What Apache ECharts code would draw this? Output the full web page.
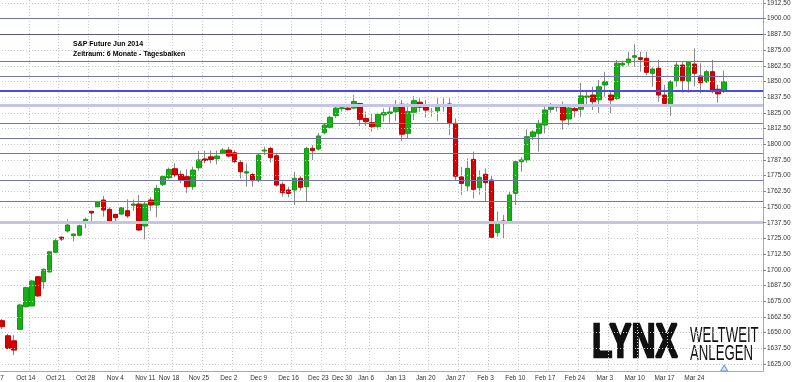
<!DOCTYPE html>
<html><head><meta charset="utf-8">
<script src="https://cdn.jsdelivr.net/npm/echarts@6/dist/echarts.min.js"></script>
<style>html,body{margin:0;padding:0;background:#fff}#c{width:800px;height:382px}</style>
</head><body><div id="c"></div>
<script>
const dates = [
 'Oct 7','Oct 8','Oct 9','Oct 10','Oct 11',
 'Oct 14','Oct 15','Oct 16','Oct 17','Oct 18',
 'Oct 21','Oct 22','Oct 23','Oct 24','Oct 25',
 'Oct 28','Oct 29','Oct 30','Oct 31','Nov 1',
 'Nov 4','Nov 5','Nov 6','Nov 7','Nov 8',
 'Nov 11','Nov 12','Nov 13','Nov 14',
 'Nov 18','Nov 19','Nov 20','Nov 21','Nov 22',
 'Nov 25','Nov 26','Nov 27','Nov 28','Nov 29',
 'Dec 2','Dec 3','Dec 4','Dec 5','Dec 6',
 'Dec 9','Dec 10','Dec 11','Dec 12','Dec 13',
 'Dec 16','Dec 17','Dec 18','Dec 19','Dec 20',
 'Dec 23','Dec 24','Dec 26','Dec 27',
 'Dec 30','Dec 31','Jan 2','Jan 3',
 'Jan 6','Jan 7','Jan 8','Jan 9','Jan 10',
 'Jan 13','Jan 14','Jan 15','Jan 16','Jan 17',
 'Jan 20','Jan 21','Jan 22','Jan 23','Jan 24',
 'Jan 27','Jan 28','Jan 29','Jan 30','Jan 31',
 'Feb 3','Feb 4','Feb 5','Feb 6','Feb 7',
 'Feb 10','Feb 11','Feb 12','Feb 13','Feb 14',
 'Feb 17','Feb 18','Feb 19','Feb 20','Feb 21',
 'Feb 24','Feb 25','Feb 26','Feb 27','Feb 28',
 'Mar 3','Mar 4','Mar 5','Mar 6','Mar 7',
 'Mar 10','Mar 11','Mar 12','Mar 13','Mar 14',
 'Mar 17','Mar 18','Mar 19','Mar 20','Mar 21',
 'Mar 24','Mar 25','Mar 26','Mar 27','Mar 28',
 'Mar 31'
];
const emptySlots = ['', ' ', '  ', '   ', '    ', '     '];
const tickLabels = ['Oct 7','Oct 14','Oct 21','Oct 28','Nov 4','Nov 11','Nov 18','Nov 25','Dec 2','Dec 9','Dec 16','Dec 23','Dec 30','Jan 6','Jan 13','Jan 20','Jan 27','Feb 3','Feb 10','Feb 17','Feb 24','Mar 3','Mar 10','Mar 17','Mar 24'];

const open = [null,
 1659.5,1647.5,1643.5,1652.6,1670.6,1671.2,1694.5,1690.5,1698.3,1714,1726,1730.9,1727.2,1727.5,1737.5,1746.6,1750.3,1755.6,1748.2,1744.2,
 1744.4,1747.1,1751.4,1752.4,1734.9,1755.6,1751.6,1768.1,1773.4,1780.5,1776,1774.2,1766.2,1781.3,1788.3,1790,1788.5,1792.8,1795.4,1793.3,
 1785.6,1777.1,1775.9,1771,1794.6,1796.7,1790.9,1768.1,1763.6,1763.6,1772.9,1766.2,1796.8,1796.2,1809.2,1813.5,1822.8,1828.4,1828.8,1828.8,
 1832.5,1820.6,1817.2,
 1814.0,1823.3,1824.5,1825.9,1831.9,1808.7,1825.5,1833.5,1830.5,1826,1826.6,1830,1832.1,1816.7,1774,1766.8,1788,1765.4,1776.1,1771.5,
 1729.6,1738.9,1738.3,1760.9,1786.1,1787.5,1806,1808.7,1815.3,1827.8,1829.6,
 1829.9,1820.1,1828.4,1827.9,1837.4,1839.2,1835.4,1847.2,1839.2,1836.6,1863.1,1865,1869.3,1868.9,1868.5,1856.5,1860.5,1839.2,1831.3,1850.6,
 1863.1,1850.2,1863.9,1854.4,1849.8,1857.8,1843.8,1842.7];
const close = [null,
 1654.7,1637.5,1636.1,1672,1685.8,1691.1,1679.2,1700.4,1714.4,1723.2,1724.5,1735.7,1728.5,1735.1,1740.2,1745.3,1754,1747.6,1737.8,1741.5,
 1749.5,1742.9,1752.4,1731.7,1752.4,1751.6,1764.9,1774.2,1780,1775.5,1771.5,1766.2,1779.5,1787.5,1787.1,1787.9,1790.6,1795.4,1790.6,1786.2,
 1778.1,1778.1,1771,1791.4,1795.4,1789.3,1767.5,1761.4,1760.9,1772.9,1765.7,1796.7,1794.9,1806.6,1815.3,1821.5,1828.8,1829.1,1827.6,1834.1,
 1819.8,1818,1814,
 1823.9,1825.1,1825.7,1830.5,1808,1826,1834.7,1829.5,1827.2,1826,1831.3,1831.3,1817.2,1774.5,1768.8,1780.8,1764.1,1773.7,1769.4,1725.9,
 1737,1736.8,1759.6,1786.1,1787.5,1806,1809.8,1816.7,1827.3,1830.5,1830.5,
 1819.3,1828.9,1826.8,1838.5,1838.4,1833.9,1845.8,1849.8,1835.2,1864.5,1864.5,1867.9,1870.5,1867.6,1857.3,1859.9,1839.2,1832.5,1849.8,1863.1,
 1850.6,1865.3,1856.5,1849,1857.8,1841.9,1840.1,1849.8];
const high = [null,
 1661,1649,1648,1673,1686.5,1692,1695,1701,1715,1725,1726.5,1740.2,1729,1736,1741.5,1747,1754.5,1758.8,1749.8,1744.6,
 1750,1756.2,1756,1759.6,1754,1757.8,1767.6,1775.2,1781.5,1784.8,1779,1780,1782.1,1794.6,1794.9,1795,1795,1797,1797.9,1795.4,
 1787.5,1784.8,1777.3,1793,1798,1798,1792.8,1770.1,1766.2,1778.1,1774.7,1798,1799.4,1809,1816.8,1822.6,1831.5,1832,1830.8,1839.2,
 1833,1825.9,1825,
 1825.1,1828.6,1831.3,1835.2,1835.2,1832.6,1838.4,1836.6,1835.2,1829,1836.6,1836.6,1836.6,1820.7,1782,1788.8,1794.1,1779.2,1780.8,1775.5,
 1746.3,1743.7,1762.3,1787.5,1789.6,1811.8,1811.3,1819.3,1831.3,1832.8,1832.1,
 1834,1831.3,1831.3,1848.8,1843.2,1845.8,1851.1,1857.8,1841.9,1867.2,1866.5,1873.7,1879.8,1873.7,1873.7,1861.3,1867.2,1847.2,1851.1,1865.7,
 1865.7,1865.7,1876.5,1864.5,1859.1,1867.2,1847.2,1858.6];
const low = [null,
 1653,1637,1632,1652,1670,1671,1678.5,1685,1698,1713.5,1723,1729.6,1722.7,1727,1733,1738.3,1749.8,1742.3,1737.2,1736.5,
 1744,1741.3,1747,1731,1724.3,1747,1741.8,1766.7,1772,1773.7,1768.9,1761.4,1763.6,1779,1784.8,1785,1784,1792,1789.5,1784.8,
 1772.8,1766.2,1766.2,1769.8,1791.4,1785.4,1766.2,1758.3,1757.7,1751.6,1763,1754.2,1787.5,1795,1808,1812,1821,1826,1826.8,1827.8,
 1814.5,1814.5,1810,
 1811.6,1818,1817.2,1818.7,1802.8,1804.7,1819.3,1825.9,1821.4,1822,1818.7,1826,1807.2,1771.5,1759.6,1762.5,1756.9,1759.9,1754.4,1725.1,
 1726.4,1725.1,1737.5,1751.6,1778.1,1785.4,1803.3,1794.1,1808.7,1825.1,1825.9,
 1811.6,1815,1821.4,1821.7,1829.4,1827.3,1825,1837.9,1824.7,1835.2,1861.8,1862,1861.8,1857.8,1855,1845.8,1833.9,1831.3,1822.6,1845.8,
 1841.1,1841.1,1846,1840.6,1848.8,1840.6,1833.1,1840.6];

const yTicks = [1625,1637.5,1650,1662.5,1675,1687.5,1700,1712.5,1725,1737.5,1750,1762.5,1775,1787.5,1800,1812.5,1825,1837.5,1850,1862.5,1875,1887.5,1900,1912.5];
const levels = [1900,1887.5,1865.8,1853.8,1842.7,1831.3,1816.7,1804.7,1792.8,1771.5,1754.4,1737.5];
const levelKinds = ['n','d','n','n','b','l','n','n','n','n','n','l'];

const categories = dates.concat(emptySlots);
const tickSet = new Set(tickLabels);
const wickData = open.map((o,i)=> o==null ? '-' : [o, close[i], low[i], high[i]]);
const bodyData = open.map((o,i)=> o==null ? '-' : [o, close[i], Math.min(o,close[i]), Math.max(o,close[i])]);
const styleFor = {
  n:{color:'#7474b4', width:1},
  d:{color:'#5a5a80', width:1},
  b:{color:'#4a4ae6', width:2},
  l:{color:'#c4c4e4', width:3}
};
const FONT = '"Liberation Sans",Arial,sans-serif';

const chart = echarts.init(document.getElementById('c'), null, {renderer:'canvas'});
chart.setOption({
  animation:false,
  backgroundColor:'#fff',
  grid:{left:-7, top:0, width:770, height:371, containLabel:false, outerBoundsMode:'none'},
  xAxis:{
    type:'category', data:categories, boundaryGap:true,
    axisLine:{show:true, lineStyle:{color:'#a8a8a8', width:1}},
    axisTick:{show:false},
    axisLabel:{interval:(i,v)=>tickSet.has(v), fontSize:6.5, color:'#333', margin:4, fontFamily:FONT, hideOverlap:false},
    splitLine:{show:true, interval:(i)=> i>0 && tickSet.has(categories[i-1]), lineStyle:{type:[1,2], color:'#c8c8c8', width:1}}
  },
  yAxis:{
    type:'value', position:'right', min:1619.43, max:1914.89, scale:true,
    splitLine:{show:false},
    axisLine:{show:true, lineStyle:{color:'#a8a8a8'}},
    axisTick:{show:true, customValues:yTicks, length:3, lineStyle:{color:'#888'}},
    axisLabel:{customValues:yTicks, formatter:v=>v.toFixed(2), fontSize:6.5, color:'#333', margin:4, fontFamily:FONT},
    name:'Price', nameLocation:'middle', nameRotate:-90, nameGap:32,
    nameTextStyle:{fontSize:7, color:'#333', fontFamily:FONT}
  },
  title:[
    {text:'S&P Future Jun 2014', left:68, top:36, textStyle:{fontSize:7, fontWeight:'bold', color:'#000', fontFamily:FONT}},
    {text:'Zeitraum: 6 Monate - Tagesbalken', left:68, top:46, textStyle:{fontSize:7, fontWeight:'bold', color:'#000', fontFamily:FONT}}
  ],
  graphic:[
    {type:'text', x:592, y:343, scaleX:0.68, style:{text:'LYNX', font:'bold 49px '+FONT, fill:'#111', stroke:'#111', lineWidth:2.5, verticalAlign:'middle'}},
    {type:'text', x:690, y:336, scaleX:0.6, style:{text:'WELTWEIT', font:'22px '+FONT, fill:'#111', verticalAlign:'middle'}},
    {type:'text', x:690, y:354, scaleX:0.6, style:{text:'ANLEGEN', font:'22px '+FONT, fill:'#111', verticalAlign:'middle'}}
  ],
  series:[
    {type:'line', data:[], silent:true, z:1,
     markLine:{silent:true, symbol:['none','none'], animation:false, label:{show:false},
       data: yTicks.map(v=>({yAxis:v, lineStyle:{type:[1,2], color:'#c8c8c8', width:1}}))
         .concat(levels.map((v,i)=>({yAxis:v, lineStyle:{type:'solid', color:styleFor[levelKinds[i]].color, width:styleFor[levelKinds[i]].width}})))
     }},
    {type:'candlestick', name:'wick', data:wickData, barWidth:1, z:3, silent:true,
     itemStyle:{color:'#8a8a8a', color0:'#8a8a8a', borderColor:'#8a8a8a', borderColor0:'#8a8a8a', borderColorDoji:'#8a8a8a', borderWidth:1}},
    {type:'candlestick', name:'S&P Future', data:bodyData, barWidth:5, z:4,
     itemStyle:{color:'#16b016', color0:'#d80000', borderColor:'#109a10', borderColor0:'#c00000', borderColorDoji:'#e0d020', borderWidth:1},
     markPoint:{silent:true, data:[{coord:[dates[dates.length-1], 1621.8], symbol:'triangle', symbolSize:[7,6], itemStyle:{color:'#d8e6f8', borderColor:'#6d9bd8', borderWidth:1}, label:{show:false}}]}}
  ]
});
</script></body></html>
